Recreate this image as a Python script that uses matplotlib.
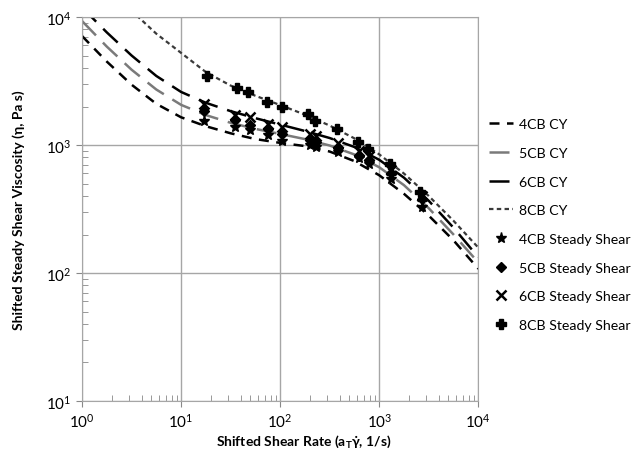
"""
Shifted steady shear viscosity vs shifted shear rate, Carreau-Yasuda fits and data
"""
import matplotlib
matplotlib.use('Agg')
import matplotlib.pyplot as plt
from matplotlib.ticker import LogLocator, NullFormatter

plt.rcParams['font.family'] = ['Lato', 'DejaVu Sans']
plt.rcParams['mathtext.default'] = 'regular'

# Carreau-Yasuda fit curves (quarter-decade steps)
fit_rate = [1, 1.78, 3.16, 5.62, 10, 17.8, 31.6, 56.2, 100, 178, 316, 562,
            1000, 1778, 3162, 5623, 10000]
fit_4cb = [7112, 4487, 2965, 2099, 1648, 1403, 1236, 1114, 1040, 982, 890, 749,
           581, 416, 281, 180, 108]
fit_5cb = [9311, 5875, 3882, 2716, 2061, 1714, 1493, 1338, 1221, 1113, 992, 844,
           671, 486, 321, 200, 121]
fit_6cb = [11885, 7586, 5012, 3467, 2600, 2138, 1841, 1622, 1445, 1288, 1135, 966,
           767, 556, 367, 226, 133]
fit_8cb = [29000, 17783, 11220, 7413, 5248, 3715, 2917, 2427, 2054, 1728, 1420, 1128,
           846, 599, 400, 256, 158]

# steady shear measurements
ss_rate = [17, 35, 50, 75, 105, 200, 230, 380, 620, 780, 1300, 2700]
ss_4cb = [1540, 1380, 1300, 1200, 1075, 1000, 963, 880, 790, 711, 542, 330]
ss_5cb = [1845, 1560, 1440, 1330, 1230, 1100, 1060, 950, 820, 760, 600, 380]
ss_6cb = [2090, 1720, 1660, 1460, 1380, 1220, 1170, 1040, 900, 820, 640, 400]
ss_rate_8cb = [18.3, 36.8, 47.5, 73.9, 105, 192, 226, 377, 614, 774, 1290, 2590]
ss_8cb = [3460, 2790, 2600, 2170, 1980, 1745, 1540, 1335, 1055, 930, 711, 430]

fig = plt.figure(figsize=(6.36, 4.52), dpi=100)
ax = fig.add_axes([0.129, 0.1106, 0.623, 0.8494])

ax.plot(fit_rate, fit_4cb, color='black', lw=1.8, dashes=(4, 3), label='4CB CY')
ax.plot(fit_rate, fit_5cb, color='#7a7a7a', lw=1.8, dashes=(8, 4), label='5CB CY')
ax.plot(fit_rate, fit_6cb, color='black', lw=1.8, dashes=(8, 4), label='6CB CY')
ax.plot(fit_rate, fit_8cb, color='#3a3a3a', lw=1.6, dashes=(2, 1.5), label='8CB CY')

ax.plot(ss_rate, ss_4cb, ls='none', marker='*', ms=8, color='black', label='4CB Steady Shear')
ax.plot(ss_rate, ss_5cb, ls='none', marker='D', ms=5, color='black', label='5CB Steady Shear')
ax.plot(ss_rate, ss_6cb, ls='none', marker='x', ms=7, mew=1.8, color='black', label='6CB Steady Shear')
ax.plot(ss_rate_8cb, ss_8cb, ls='none', marker='P', ms=7, color='black', label='8CB Steady Shear')

ax.set_xscale('log')
ax.set_yscale('log')
ax.set_xlim(1, 1e4)
ax.set_ylim(10, 1e4)

ax.xaxis.set_minor_locator(LogLocator(base=10, subs=range(2, 10)))
ax.yaxis.set_minor_locator(LogLocator(base=10, subs=range(2, 10)))
ax.xaxis.set_minor_formatter(NullFormatter())
ax.yaxis.set_minor_formatter(NullFormatter())

ax.grid(True, which='major', color='#a6a6a6', lw=1)
ax.tick_params(which='major', direction='out', length=4, color='#888888', labelsize=11)
ax.tick_params(which='minor', direction='in', length=4, color='#888888')
for s in ax.spines.values():
    s.set_color('#a6a6a6')

ax.set_xlabel('Shifted Shear Rate (a$_T$γ̇, 1/s)', fontsize=10, fontweight='bold')
ax.set_ylabel('Shifted Steady Shear Viscosity (η, Pa s)', fontsize=10, fontweight='bold')
ax.xaxis.set_label_coords(0.56, -0.082)
ax.yaxis.set_label_coords(-0.145, 0.5)

ax.legend(loc='upper left', bbox_to_anchor=(0.995, 0.77), frameon=False, fontsize=10.2,
          handlelength=1.7, labelspacing=1.18, handletextpad=0.45)

fig.savefig('out.png', dpi=100)
